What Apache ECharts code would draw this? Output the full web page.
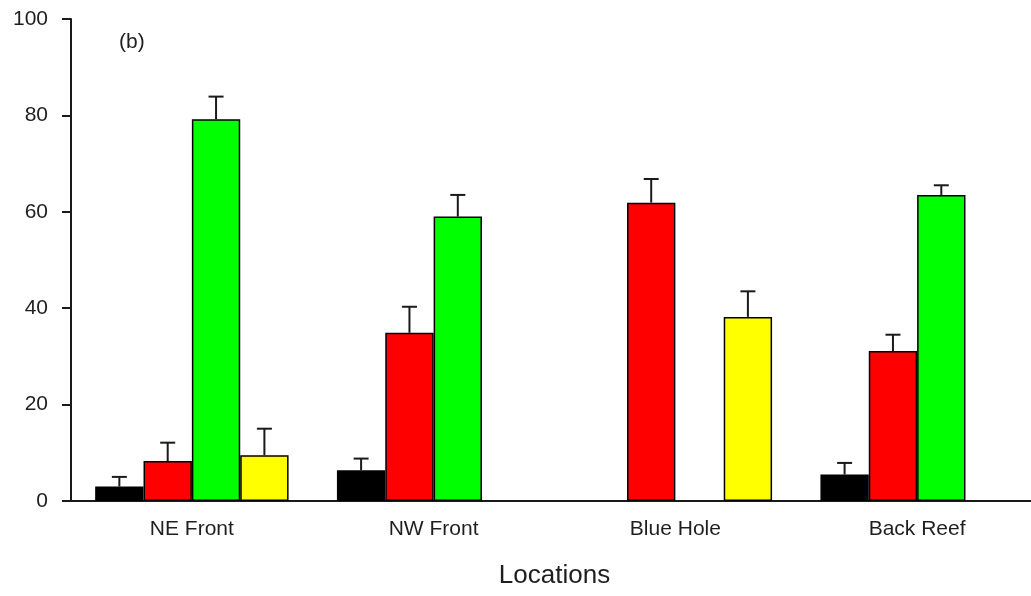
<!DOCTYPE html>
<html>
<head>
<meta charset="utf-8">
<script src="https://cdn.jsdelivr.net/npm/echarts@6/dist/echarts.min.js"></script>
<style>
  html, body { margin: 0; padding: 0; background: #fff; }
  #chart { width: 1031px; height: 596px; }
</style>
</head>
<body>
<div id="chart"></div>
<script>
// Sampling locations (x axis)
const categories = ['NE Front', 'NW Front', 'Blue Hole', 'Back Reef'];

// Mean percentages per group and their standard errors (null = not present)
const blackVals  = [3.0, 6.4, null, 5.5];
const blackErr   = [2.0, 2.4, null, 2.4];
const redVals    = [8.3, 34.9, 61.9, 31.1];
const redErr     = [3.8, 5.4, 4.9, 3.4];
const greenVals  = [79.2, 59.0, null, 63.5];
const greenErr   = [4.7, 4.5, null, 2.0];
const yellowVals = [9.5, null, 38.2, null];
const yellowErr  = [5.5, null, 5.3, null];

const yTicks = [0, 20, 40, 60, 80, 100];

const groups = [
  { vals: blackVals,  errs: blackErr,  color: '#000000' },
  { vals: redVals,    errs: redErr,    color: '#ff0000' },
  { vals: greenVals,  errs: greenErr,  color: '#00ff00' },
  { vals: yellowVals, errs: yellowErr, color: '#ffff00' }
];

const CATEGORY_GAP = 0.2;
const nGroups = groups.length;
const axisColor = '#1a1a1a';
const textColor = '#1e1e1e';
const fontFamily = 'Arial, "Liberation Sans", Helvetica, sans-serif';

const barSeries = groups.map((g, i) => ({
  type: 'bar',
  name: 'g' + i,
  data: g.vals,
  barGap: '0%',
  barCategoryGap: (CATEGORY_GAP * 100) + '%',
  itemStyle: { color: g.color, borderColor: '#000', borderWidth: 1.5 },
  z: 2
}));

// Upper error bars, placed over each bar slot
const errSeries = groups.map((g, i) => ({
  type: 'custom',
  name: 'e' + i,
  data: g.vals.map((v, k) => (v == null ? null : [k, v, g.errs[k]])).filter(d => d),
  encode: { x: 0, y: 1 },
  z: 5,
  silent: true,
  renderItem: function (params, api) {
    const cat = api.value(0);
    const val = api.value(1);
    const err = api.value(2);
    const band = api.size([1, 0])[0];
    const bw = band * (1 - CATEGORY_GAP) / nGroups;
    const base = api.coord([cat, val]);
    const top = api.coord([cat, val + err]);
    const x = base[0] + (i - (nGroups - 1) / 2) * bw;
    const half = 7.5;
    const style = { stroke: '#1a1a1a', lineWidth: 2, fill: null };
    return {
      type: 'group',
      children: [
        { type: 'line', shape: { x1: x, y1: base[1], x2: x, y2: top[1] }, style: style },
        { type: 'line', shape: { x1: x - half, y1: top[1], x2: x + half, y2: top[1] }, style: style }
      ]
    };
  }
}));

const chart = echarts.init(document.getElementById('chart'), null, { renderer: 'canvas' });
chart.setOption({
  animation: false,
  backgroundColor: '#ffffff',
  title: {
    text: '(b)',
    left: 114,
    top: 27,
    textStyle: { fontFamily: fontFamily, fontSize: 21, fontWeight: 'normal', color: textColor }
  },
  grid: { left: 71, top: 19, right: -7, bottom: 95, outerBoundsMode: 'none', containLabel: false },
  xAxis: {
    type: 'category',
    data: categories,
    name: 'Locations',
    nameLocation: 'middle',
    nameGap: 62,
    nameTextStyle: { fontFamily: fontFamily, fontSize: 26, color: textColor },
    axisLine: { lineStyle: { color: axisColor, width: 2 } },
    axisTick: { alignWithLabel: true, length: 8, lineStyle: { color: axisColor, width: 2 } },
    axisLabel: { margin: 18, fontFamily: fontFamily, fontSize: 21, color: textColor },
    splitLine: { show: false }
  },
  yAxis: {
    type: 'value',
    min: yTicks[0],
    max: yTicks[yTicks.length - 1],
    interval: yTicks[1] - yTicks[0],
    axisLine: { show: true, lineStyle: { color: axisColor, width: 2 } },
    axisTick: { show: true, length: 9, lineStyle: { color: axisColor, width: 2 } },
    axisLabel: { margin: 23, fontFamily: fontFamily, fontSize: 21, color: textColor },
    splitLine: { show: false }
  },
  series: barSeries.concat(errSeries)
});
</script>
</body>
</html>
